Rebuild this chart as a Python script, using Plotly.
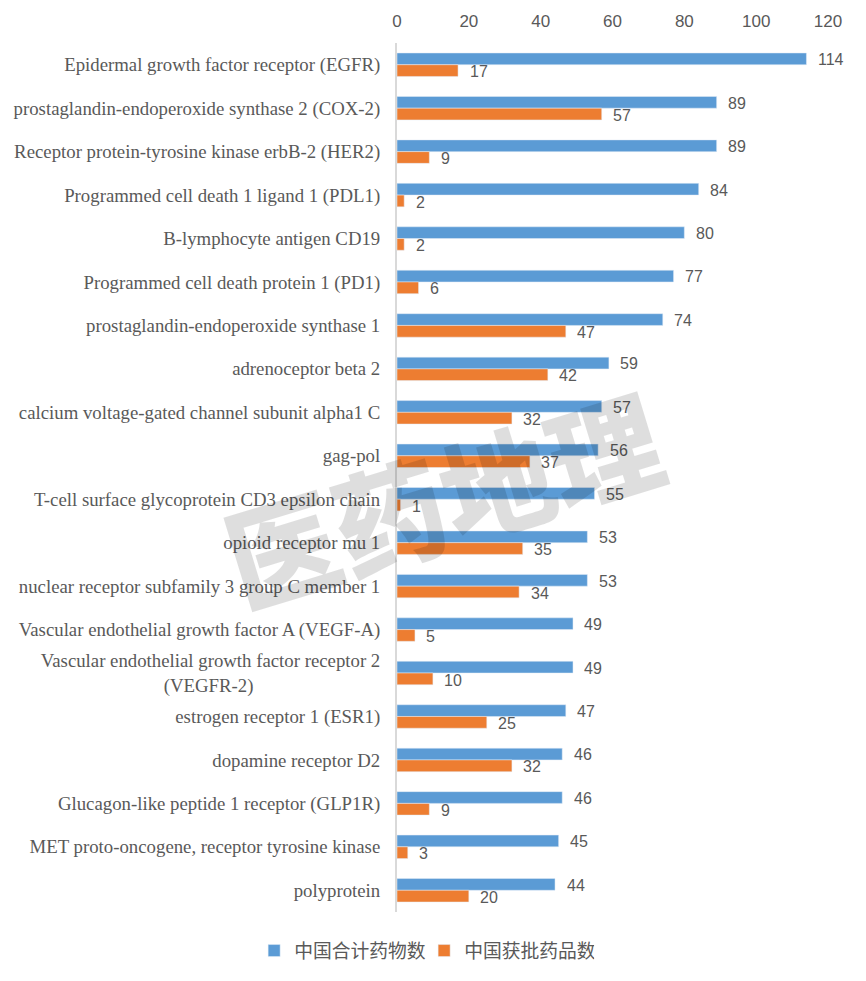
import plotly.graph_objects as go

targets = [
    'Epidermal growth factor receptor (EGFR)',
    'prostaglandin-endoperoxide synthase 2 (COX-2)',
    'Receptor protein-tyrosine kinase erbB-2 (HER2)',
    'Programmed cell death 1 ligand 1 (PDL1)',
    'B-lymphocyte antigen CD19',
    'Programmed cell death protein 1 (PD1)',
    'prostaglandin-endoperoxide synthase 1',
    'adrenoceptor beta 2',
    'calcium voltage-gated channel subunit alpha1 C',
    'gag-pol',
    'T-cell surface glycoprotein CD3 epsilon chain',
    'opioid receptor mu 1',
    'nuclear receptor subfamily 3 group C member 1',
    'Vascular endothelial growth factor A (VEGF-A)',
    'Vascular endothelial growth factor receptor 2<br>(VEGFR-2)' + '\u00a0' * 27,
    'estrogen receptor 1 (ESR1)',
    'dopamine receptor D2',
    'Glucagon-like peptide 1 receptor (GLP1R)',
    'MET proto-oncogene, receptor tyrosine kinase',
    'polyprotein',
]
total_drugs = [114, 89, 89, 84, 80, 77, 74, 59, 57, 56, 55, 53, 53, 49, 49, 47, 46, 46, 45, 44]
approved_drugs = [17, 57, 9, 2, 2, 6, 47, 42, 32, 37, 1, 35, 34, 5, 10, 25, 32, 9, 3, 20]
x_ticks = [0, 20, 40, 60, 80, 100, 120]

GREY = '#595959'

fig = go.Figure()
fig.add_trace(go.Bar(y=targets, x=total_drugs, orientation='h',
                     name='中国合计药物数', marker_color='#5B9BD5'))
fig.add_trace(go.Bar(y=targets, x=approved_drugs, orientation='h',
                     name='中国获批药品数', marker_color='#ED7D31'))

# value labels sit a little away from the bar ends
for name, total, approved in zip(targets, total_drugs, approved_drugs):
    fig.add_annotation(x=total, y=name, text=str(total), showarrow=False,
                       xanchor='left', xshift=9.5, yshift=5,
                       font=dict(family='Liberation Sans', size=16, color=GREY))
    fig.add_annotation(x=approved, y=name, text=str(approved), showarrow=False,
                       xanchor='left', xshift=9.5, yshift=-7,
                       font=dict(family='Liberation Sans', size=16, color=GREY))

# watermark
fig.add_annotation(xref='paper', yref='paper', x=0.105, y=0.48, text='医药地理',
                   showarrow=False, textangle=-17, xanchor='center', yanchor='middle',
                   font=dict(family='Noto Sans CJK SC', size=112, weight=900,
                             color='rgba(0,0,0,0.13)'))

# page has an 8px body margin, so the figure is 8px smaller than the window
fig.update_layout(
    width=858, height=973,
    margin=dict(l=389, r=38, t=35, b=69),
    barmode='group', bargap=0.46, bargroupgap=0,
    plot_bgcolor='white', paper_bgcolor='white',
    legend=dict(orientation='h', x=0.485, xref='container', xanchor='center',
                y=0.031, yref='container', yanchor='middle',
                entrywidth=125, entrywidthmode='pixels',
                font=dict(family='Noto Sans CJK SC', size=18.8, color=GREY)),
    xaxis=dict(side='top', range=[0, 120], tickvals=x_ticks, showgrid=False,
               showline=False, zeroline=False, ticks='outside', ticklen=8,
               tickcolor='rgba(0,0,0,0)', automargin=False,
               tickfont=dict(family='Liberation Sans', size=17, color=GREY)),
    yaxis=dict(autorange='reversed', showgrid=False, showline=True, linecolor='#D9D9D9',
               linewidth=2, ticks='outside', ticklen=11, tickcolor='rgba(0,0,0,0)',
               automargin=False,
               tickfont=dict(family='Liberation Serif', size=18.8, color=GREY)),
)

fig.write_html("out.html")
